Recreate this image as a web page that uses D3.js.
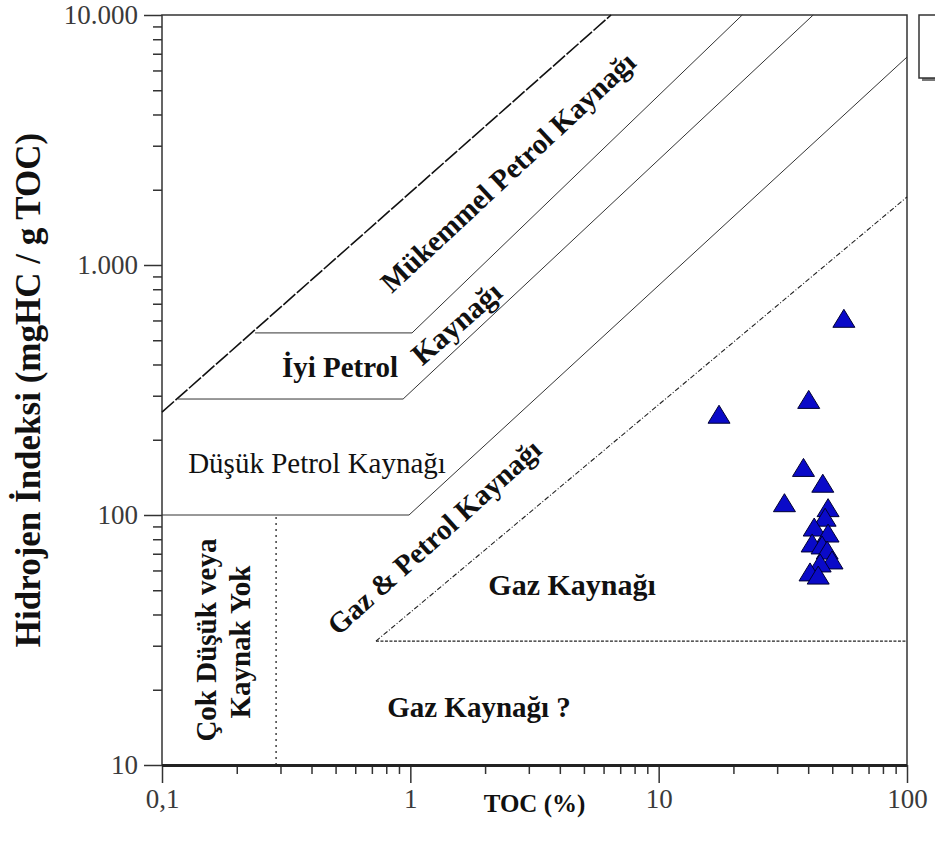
<!DOCTYPE html>
<html>
<head>
<meta charset="utf-8">
<script src="https://cdn.jsdelivr.net/npm/d3@7"></script>
<style>
body{margin:0;background:#fff}
text{font-family:"Liberation Serif","Times New Roman",serif}
</style>
</head>
<body>
<svg id="chart" width="935" height="852"></svg>
<script>
//tick values and labels
var xMajor = [0.1, 1, 10, 100];
var xLabels = ["0,1", "1", "10", "100"];
var yMajor = [10, 100, 1000, 10000];
var yLabels = ["10", "100", "1.000", "10.000"];

//zone boundaries as [TOC, HI]
var excellentTop = [[0.1, 258], [6.43, 10000]];
var goodTop = [[0.237, 535], [1.016, 535], [21.7, 10000]];
var goodBottom = [[0.116, 291], [0.935, 291], [41.9, 10000]];
var poorBottom = [[0.1, 100], [0.988, 100], [100, 6790]];
var gasLine = [[0.727, 31.3], [100, 1871]];
var gasFloor = [[0.727, 31.3], [100, 31.3]];
var noSource = [[0.288, 10], [0.288, 100]];

//samples
var sampleTOC = [55.7, 40.2, 17.5, 38.3, 45.8, 32.1, 48.1, 46.8, 42.3, 48.1, 41.5, 45.5, 47.7, 49.9, 44.7, 40.7, 43.9];
var sampleHI = [612, 290, 253, 155, 134, 112, 107, 98, 89.5, 84.7, 77.3, 75.9, 72.4, 66.1, 64.3, 59.2, 57.5];

var svg = d3.select("#chart");
var plotLeft = 162, plotRight = 907, plotTop = 15, plotBottom = 765;

var x = d3.scaleLog().domain([0.1, 100]).range([plotLeft, plotRight]);
var y = d3.scaleLog().domain([10, 10000]).range([plotBottom, plotTop]);

var xMinor = x.ticks().filter(function(d){ return xMajor.indexOf(+d.toPrecision(3)) < 0; });
var yMinor = y.ticks().filter(function(d){ return yMajor.indexOf(+d.toPrecision(3)) < 0; });

//legend box, cut by the page edge
svg.append("rect").attr("x", 922).attr("y", 18).attr("width", 40).attr("height", 63).style("fill", "#777");
svg.append("rect").attr("x", 919).attr("y", 15).attr("width", 40).attr("height", 63)
	.style("fill", "#fff").attr("stroke", "#333").attr("stroke-width", 1.5);

//axes
function styleAxis(g){
	g.select(".domain").remove();
	g.selectAll("line").attr("stroke", "#333").attr("stroke-width", 1.5);
	g.selectAll("text").style("font-size", "27px").style("fill", "#3a3a3a");
}
svg.append("g").attr("transform", "translate(0," + plotBottom + ")")
	.call(d3.axisBottom(x).tickValues(xMinor).tickSize(9).tickFormat(""))
	.call(styleAxis);
svg.append("g").attr("transform", "translate(0," + plotBottom + ")")
	.call(d3.axisBottom(x).tickValues(xMajor).tickSize(18).tickPadding(6)
		.tickFormat(function(d, i){ return xLabels[i]; }))
	.call(styleAxis);
svg.append("g").attr("transform", "translate(" + plotLeft + ",0)")
	.call(d3.axisLeft(y).tickValues(yMinor).tickSize(9).tickFormat(""))
	.call(styleAxis);
svg.append("g").attr("transform", "translate(" + plotLeft + ",0)")
	.call(d3.axisLeft(y).tickValues(yMajor).tickSize(18).tickPadding(6)
		.tickFormat(function(d, i){ return yLabels[i]; }))
	.call(styleAxis);

//frame
svg.append("path").attr("d", "M" + plotLeft + "," + plotBottom + "V" + plotTop + "H" + plotRight + "V" + plotBottom)
	.style("fill", "none").attr("stroke", "#333").attr("stroke-width", 1.5);
svg.append("line").attr("x1", plotLeft).attr("x2", plotRight).attr("y1", plotBottom + 0.5).attr("y2", plotBottom + 0.5)
	.attr("stroke", "#222").attr("stroke-width", 3);

//zone lines
var line = d3.line().x(function(d){ return x(d[0]); }).y(function(d){ return y(d[1]); });
function zone(pts, dash, width, color){
	svg.append("path").datum(pts).attr("d", line)
		.style("fill", "none")
		.attr("stroke", color || "#333")
		.attr("stroke-width", width)
		.attr("stroke-dasharray", dash);
}
zone(excellentTop, "16,2", 1.6, "#111");
zone(goodTop, null, 1);
zone(goodBottom, null, 1);
zone(poorBottom, null, 1);
zone(gasLine, "5,2,1,2", 1.1, "#222");
zone(gasFloor, "3,1.5", 1.1, "#222");
zone(noSource, "2,4", 1.3, "#222");

//zone labels
function label(txt, toc, hi, angle, weight, size){
	var px = x(toc), py = y(hi);
	svg.append("text").text(txt)
		.attr("transform", "translate(" + px + "," + py + ") rotate(" + angle + ")")
		.attr("text-anchor", "middle")
		.attr("dominant-baseline", "central")
		.style("font-weight", weight)
		.style("font-size", size + "px")
		.style("fill", "#111");
}
label("Mükemmel Petrol Kaynağı", 2.47, 2355, -43, "bold", 29);
label("İyi Petrol", 0.521, 391, 0, "bold", 29);
label("Kaynağı", 1.53, 586, -41, "bold", 30);
label("Düşük Petrol Kaynağı", 0.421, 161, 0, "normal", 29);
label("Gaz & Petrol Kaynağı", 1.246, 81.7, -42, "bold", 29);
label("Gaz Kaynağı", 4.48, 52.5, 0, "bold", 30);
label("Gaz Kaynağı ?", 1.89, 17.1, 0, "bold", 29);
label("Çok Düşük veya", 0.150, 31.6, -90, "bold", 29);
label("Kaynak Yok", 0.206, 31.0, -90, "bold", 29);

//axis titles
svg.append("text").text("TOC (%)")
	.attr("x", (plotLeft + plotRight) / 2).attr("y", 803)
	.attr("text-anchor", "middle").attr("dominant-baseline", "central")
	.style("font-weight", "bold").style("font-size", "25px").style("fill", "#111");
svg.append("text").text("Hidrojen İndeksi (mgHC / g TOC)")
	.attr("transform", "translate(28," + ((plotTop + plotBottom) / 2) + ") rotate(-90)")
	.attr("text-anchor", "middle").attr("dominant-baseline", "central")
	.style("font-weight", "bold").style("font-size", "35px").style("fill", "#111");

//sample markers
var samples = sampleTOC.map(function(t, i){ return [t, sampleHI[i]]; });
svg.append("g").selectAll("path").data(samples).enter().append("path")
	.attr("transform", function(d){ return "translate(" + x(d[0]) + "," + y(d[1]) + ")"; })
	.attr("d", "M0,-9L11,9L-11,9Z")
	.style("fill", "#0a0ac8")
	.attr("stroke", "#000033")
	.attr("stroke-width", 1);
</script>
</body>
</html>
